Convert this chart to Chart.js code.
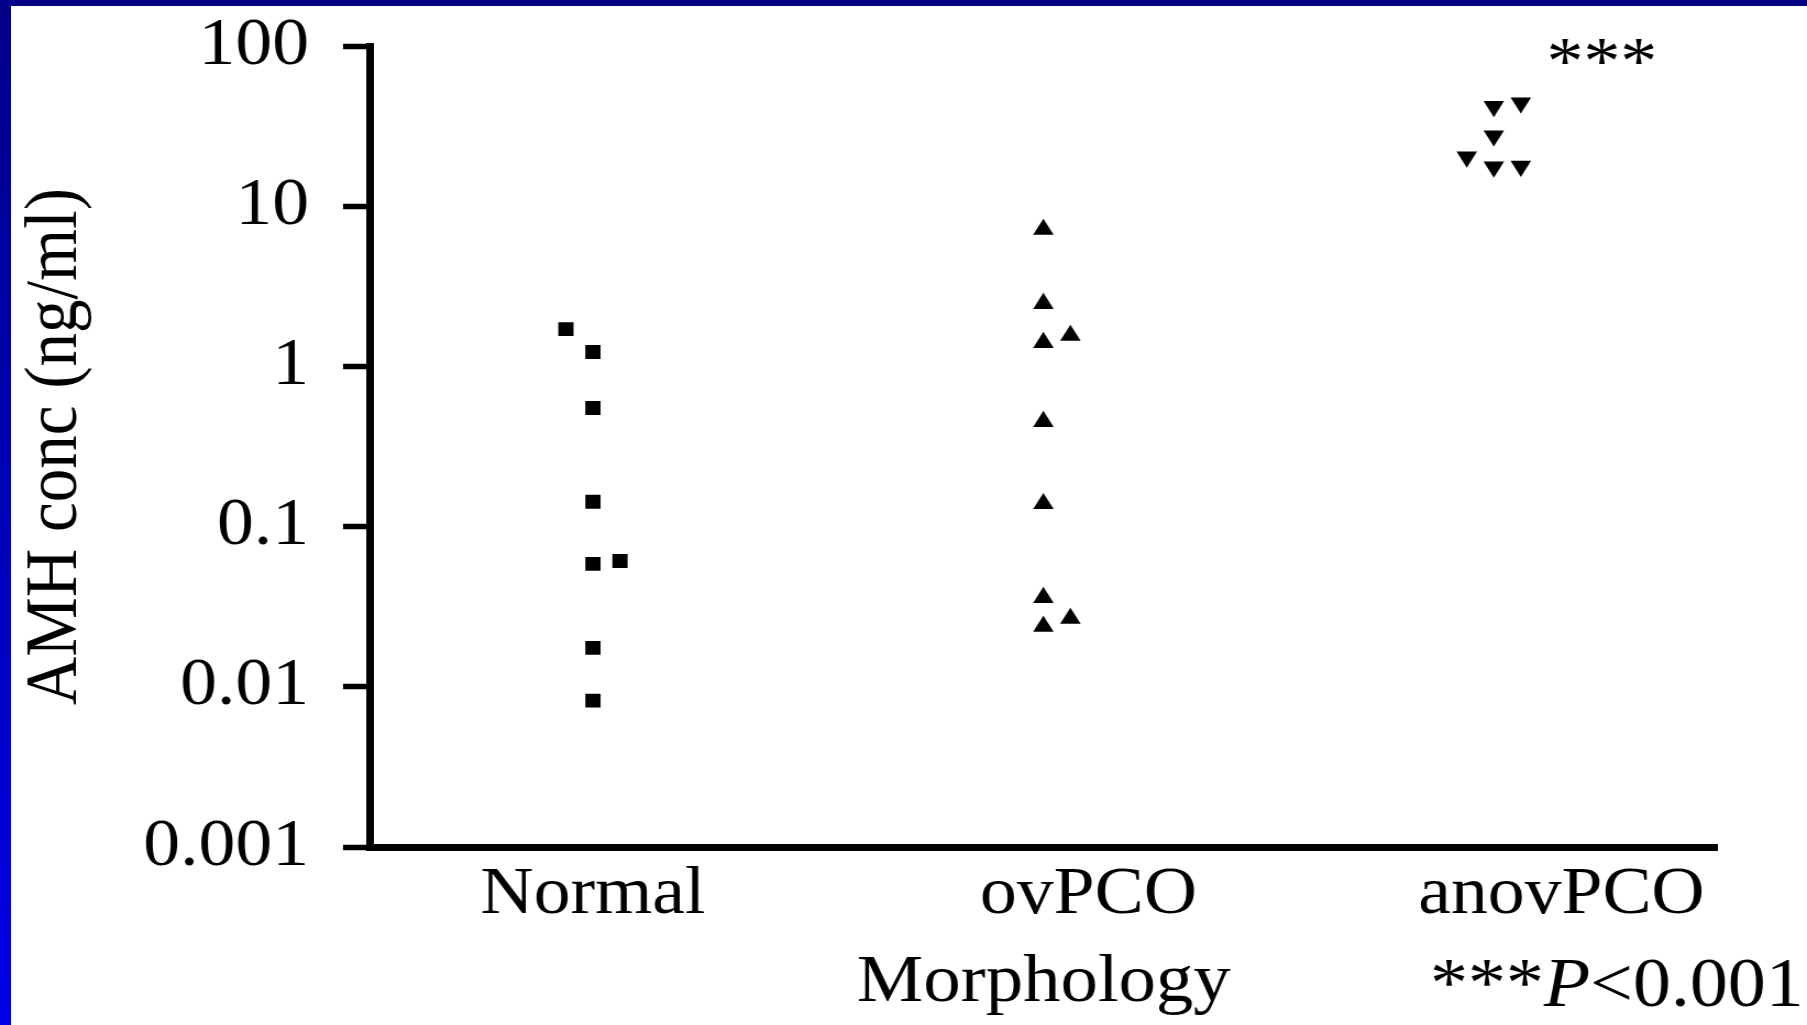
<!DOCTYPE html>
<html>
<head>
<meta charset="utf-8">
<title>AMH conc by morphology</title>
<script src="https://cdn.jsdelivr.net/npm/chart.js@4/dist/chart.umd.min.js"></script>
<style>
    html, body {
        margin: 0;
        padding: 0;
    }
    body {
        width: 1807px;
        height: 1025px;
        overflow: hidden;
        position: relative;
        background: linear-gradient(to bottom, #000088, #0000e8);
    }
    #panel {
        position: absolute;
        left: 11px;
        top: 6px;
        width: 1796px;
        height: 1019px;
        background: #fff;
        overflow: hidden;
    }
    /* slide text is a little wide, so the chart is stretched sideways */
    #amhChart {
        display: block;
        transform: scaleX(1.0998);
        transform-origin: 0 0;
    }
</style>
</head>
<body>
<div id="panel">
    <canvas id="amhChart" width="1633" height="1019"></canvas>
</div>

<script>
// Grupos y posiciones de las etiquetas del eje X
const groups = ['Normal', 'ovPCO', 'anovPCO'];
const groupLabelPos = [0, 1.1, 2.15];

// Eje Y logarítmico
const yTicks = [0.001, 0.01, 0.1, 1, 10, 100];
const yTickLabels = ['0.001', '0.01', '0.1', '1', '10', '100'];

// AMH (ng/ml) por paciente, con desplazamiento horizontal dentro del grupo
const normalShift = [-0.06, 0, 0, 0, 0, 0.06, 0, 0];
const normalAMH = [1.71, 1.23, 0.55, 0.143, 0.0585, 0.061, 0.0175, 0.0082];

const ovShift = [0, 0, 0, 0.06, 0, 0, 0, 0, 0.06];
const ovAMH = [7.16, 2.47, 1.41, 1.56, 0.453, 0.139, 0.0361, 0.0238, 0.0267];

const anovShift = [0, 0.06, 0, -0.06, 0, 0.06];
const anovAMH = [42.0, 44.2, 27.5, 20.3, 17.6, 17.8];

const FONT = 'Liberation Serif, Times New Roman, serif';

function toPoints(groupIndex, shifts, values) {
    return values.map((v, i) => ({ x: groupIndex + shifts[i], y: v }));
}

// Asteriscos y nota de significancia
const notePlugin = {
    id: 'notes',
    afterDraw(chart) {
        const ctx = chart.ctx;
        const xs = chart.scales.x;
        const ys = chart.scales.y;
        ctx.save();
        ctx.fillStyle = '#000';
        ctx.textBaseline = 'alphabetic';

        // *** encima de anovPCO
        ctx.font = `67px ${FONT}`;
        ctx.textAlign = 'center';
        ctx.fillText('***', xs.getPixelForValue(2.24), ys.getPixelForValue(58.8));

        // ***P<0.001 abajo a la derecha
        const parts = [
            { t: '***', f: `69px ${FONT}` },
            { t: 'P', f: `italic 69px ${FONT}` },
            { t: '<0.001', f: `69px ${FONT}` }
        ];
        let total = 0;
        parts.forEach(p => { ctx.font = p.f; total += ctx.measureText(p.t).width; });
        let x = chart.width - 3 - total;
        const baseY = chart.height - 19;
        ctx.textAlign = 'left';
        parts.forEach(p => {
            ctx.font = p.f;
            ctx.fillText(p.t, x, baseY);
            x += ctx.measureText(p.t).width;
        });
        ctx.restore();
    }
};

const ctx = document.getElementById('amhChart');

new Chart(ctx, {
    type: 'scatter',
    data: {
        datasets: [
            {
                label: groups[0],
                data: toPoints(0, normalShift, normalAMH),
                pointStyle: 'rect',
                pointRadius: 9.8,
                backgroundColor: '#000',
                borderColor: '#000',
                borderWidth: 0
            },
            {
                label: groups[1],
                data: toPoints(1, ovShift, ovAMH),
                pointStyle: 'triangle',
                pointRadius: 10.8,
                backgroundColor: '#000',
                borderColor: '#000',
                borderWidth: 0
            },
            {
                label: groups[2],
                data: toPoints(2, anovShift, anovAMH),
                pointStyle: 'triangle',
                pointRotation: 180, // triángulo invertido
                pointRadius: 10.8,
                backgroundColor: '#000',
                borderColor: '#000',
                borderWidth: 0
            }
        ]
    },
    options: {
        responsive: false,
        animation: false,
        events: [],
        layout: {
            padding: { top: 40, right: 81.2, bottom: 0, left: 0 }
        },
        plugins: {
            legend: { display: false },
            tooltip: { enabled: false }
        },
        scales: {
            x: {
                type: 'linear',
                min: -0.495,
                max: 2.497,
                afterBuildTicks: scale => {
                    scale.ticks = groupLabelPos.map(v => ({ value: v }));
                },
                afterFit: scale => {
                    scale.height = 178;
                    scale.paddingLeft = 0;
                    scale.paddingRight = 0;
                },
                grid: { display: false, drawTicks: false },
                border: { display: true, width: 7, color: '#000' },
                ticks: {
                    autoSkip: false,
                    maxRotation: 0,
                    padding: 8,
                    color: '#000',
                    font: { family: FONT, size: 67 },
                    callback: (value, index) => groups[index]
                },
                title: {
                    display: true,
                    text: 'Morphology',
                    color: '#000',
                    font: { family: FONT, size: 68, lineHeight: 1 },
                    padding: { top: 0, bottom: 8 }
                }
            },
            y: {
                type: 'logarithmic',
                min: 0.001,
                max: 100,
                afterBuildTicks: scale => {
                    scale.ticks = yTicks.map(v => ({ value: v }));
                },
                afterFit: scale => {
                    scale.width = 326.4;
                    scale.paddingTop = 0;
                    scale.paddingBottom = 0;
                },
                grid: {
                    display: true,
                    drawOnChartArea: false,
                    drawTicks: true,
                    tickLength: 24.5,
                    tickWidth: 5.5,
                    tickColor: '#000',
                    lineWidth: 1
                },
                border: { display: true, width: 7, color: '#000' },
                ticks: {
                    autoSkip: false,
                    padding: 31,
                    color: '#000',
                    font: { family: FONT, size: 67 },
                    callback: (value, index) => yTickLabels[index]
                },
                title: {
                    display: true,
                    text: 'AMH conc (ng/ml)',
                    color: '#000',
                    font: { family: FONT, size: 67, lineHeight: 1 },
                    padding: { top: 8, bottom: 0 }
                }
            }
        }
    },
    plugins: [notePlugin]
});
</script>
</body>
</html>
